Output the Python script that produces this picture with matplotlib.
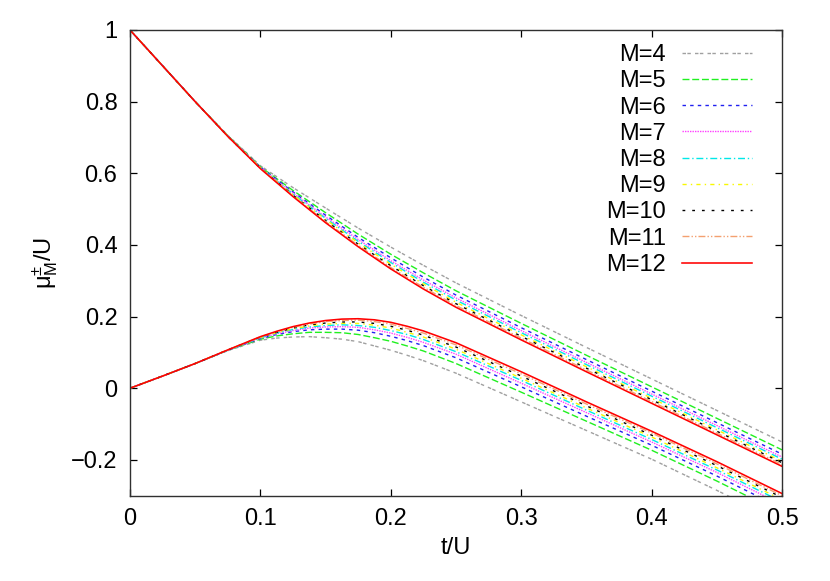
"""
Chemical potential branches mu^{+/-}_M / U versus t/U for truncation sizes M = 4..12.
Gnuplot-like look: thin coloured dash patterns, inward ticks on all sides.
"""

import matplotlib
matplotlib.use("Agg")
import matplotlib.pyplot as plt

plt.rcParams["font.family"] = ["Liberation Sans", "DejaVu Sans"]
plt.rcParams["mathtext.fontset"] = "custom"
plt.rcParams["mathtext.rm"] = "Liberation Sans"
plt.rcParams["mathtext.it"] = "Liberation Sans:italic"

# abscissa of the upper branch
t_upper = [0, 0.025, 0.05, 0.075, 0.1, 0.125, 0.15, 0.175, 0.2, 0.225, 0.25,
           0.3, 0.35, 0.4, 0.45, 0.5]

# upper branch mu^+ / U
upper_m4 = [1.0, 0.90, 0.80, 0.706, 0.621, 0.560, 0.503, 0.447, 0.394, 0.343, 0.294,
            0.203, 0.114, 0.026, -0.062, -0.150]
upper_m5 = [1.0, 0.90, 0.80, 0.705, 0.618, 0.552, 0.490, 0.430, 0.374, 0.322, 0.272,
            0.181, 0.092, 0.004, -0.084, -0.172]
upper_m6 = [1.0, 0.90, 0.80, 0.704, 0.617, 0.548, 0.483, 0.421, 0.364, 0.310, 0.260,
            0.169, 0.080, -0.008, -0.096, -0.184]
upper_m7 = [1.0, 0.90, 0.80, 0.704, 0.616, 0.545, 0.478, 0.415, 0.356, 0.302, 0.252,
            0.161, 0.072, -0.016, -0.104, -0.192]
upper_m8 = [1.0, 0.90, 0.80, 0.704, 0.615, 0.542, 0.474, 0.410, 0.351, 0.296, 0.246,
            0.155, 0.066, -0.022, -0.110, -0.198]
upper_m9 = [1.0, 0.90, 0.80, 0.704, 0.615, 0.540, 0.471, 0.406, 0.346, 0.291, 0.240,
            0.149, 0.060, -0.028, -0.116, -0.204]
upper_m10 = [1.0, 0.90, 0.80, 0.703, 0.614, 0.539, 0.468, 0.402, 0.342, 0.286, 0.236,
             0.145, 0.056, -0.032, -0.120, -0.208]
upper_m11 = [1.0, 0.90, 0.80, 0.703, 0.614, 0.537, 0.465, 0.399, 0.337, 0.282, 0.231,
             0.140, 0.051, -0.037, -0.125, -0.213]
upper_m12 = [1.0, 0.90, 0.80, 0.703, 0.613, 0.535, 0.462, 0.395, 0.333, 0.277, 0.226,
             0.135, 0.046, -0.042, -0.130, -0.218]

# abscissa of the lower branch (denser around the maximum)
t_lower = [0, 0.025, 0.05, 0.075, 0.1, 0.1125, 0.125, 0.1375, 0.15, 0.1625, 0.175,
           0.1875, 0.2, 0.2125, 0.225, 0.25, 0.3, 0.35, 0.4, 0.45, 0.5]

# lower branch mu^- / U
lower_m4 = [0, 0.034, 0.069, 0.105, 0.134, 0.140, 0.143, 0.144, 0.141, 0.137, 0.130,
            0.118, 0.106, 0.092, 0.077, 0.042, -0.038, -0.118, -0.198, -0.285, -0.375]
lower_m5 = [0, 0.034, 0.069, 0.106, 0.137, 0.146, 0.152, 0.156, 0.156, 0.155, 0.150,
            0.141, 0.131, 0.118, 0.104, 0.069, -0.011, -0.092, -0.173, -0.259, -0.349]
lower_m6 = [0, 0.034, 0.069, 0.106, 0.139, 0.150, 0.158, 0.163, 0.165, 0.165, 0.162,
            0.155, 0.145, 0.133, 0.119, 0.085, 0.004, -0.078, -0.159, -0.245, -0.335]
lower_m7 = [0, 0.034, 0.069, 0.106, 0.140, 0.152, 0.161, 0.168, 0.171, 0.172, 0.170,
            0.163, 0.154, 0.142, 0.128, 0.095, 0.014, -0.068, -0.150, -0.235, -0.325]
lower_m8 = [0, 0.034, 0.069, 0.106, 0.141, 0.154, 0.164, 0.171, 0.175, 0.177, 0.175,
            0.170, 0.161, 0.150, 0.136, 0.102, 0.022, -0.061, -0.143, -0.228, -0.317]
lower_m9 = [0, 0.034, 0.069, 0.107, 0.142, 0.155, 0.166, 0.174, 0.179, 0.181, 0.181,
            0.176, 0.168, 0.156, 0.143, 0.109, 0.028, -0.055, -0.136, -0.222, -0.311]
lower_m10 = [0, 0.034, 0.069, 0.107, 0.143, 0.156, 0.168, 0.177, 0.182, 0.185, 0.185,
             0.181, 0.173, 0.162, 0.148, 0.115, 0.034, -0.049, -0.131, -0.216, -0.305]
lower_m11 = [0, 0.034, 0.069, 0.107, 0.143, 0.158, 0.170, 0.179, 0.186, 0.189, 0.190,
             0.186, 0.179, 0.167, 0.154, 0.121, 0.040, -0.044, -0.125, -0.211, -0.300]
lower_m12 = [0, 0.034, 0.069, 0.107, 0.144, 0.159, 0.172, 0.182, 0.189, 0.193, 0.194,
             0.191, 0.184, 0.173, 0.160, 0.127, 0.046, -0.038, -0.120, -0.205, -0.294]

labels = ["M=4", "M=5", "M=6", "M=7", "M=8", "M=9", "M=10", "M=11", "M=12"]
uppers = [upper_m4, upper_m5, upper_m6, upper_m7, upper_m8, upper_m9,
          upper_m10, upper_m11, upper_m12]
lowers = [lower_m4, lower_m5, lower_m6, lower_m7, lower_m8, lower_m9,
          lower_m10, lower_m11, lower_m12]

# gnuplot-ish colours and dash patterns
couleurs = ["#a0a0a0", "#20f020", "#2020f0", "#ff40ff", "#00e8e8",
            "#f8f800", "#000000", "#f4a070", "#ff0000"]
tirets = [(0, (2.5, 1.0, 2.5, 3.0)), (0, (5, 2)), (0, (2.5, 3)), (0, (1, 0.8)),
          (0, (5, 2, 1, 2)), (0, (3, 3, 1, 3)), (0, (2, 5)),
          (0, (5, 1.5, 1, 1.5, 1, 1.5)), "-"]

fig = plt.figure(figsize=(8.3, 5.81), dpi=100)
ax = fig.add_axes([0.1566, 0.1468, 0.7856, 0.8016])

for lab, up, lo, c, ls in zip(labels, uppers, lowers, couleurs, tirets):
    lw = 1.15 if ls == "-" else 1.0
    ax.plot(t_upper, up, color=c, linestyle=ls, lw=lw, label=lab)
    ax.plot(t_lower, lo, color=c, linestyle=ls, lw=lw)

ax.set_xlim(0, 0.5)
ax.set_ylim(-0.3, 1.0)
ax.set_xticks([0, 0.1, 0.2, 0.3, 0.4, 0.5])
ax.set_xticklabels(["0", "0.1", "0.2", "0.3", "0.4", "0.5"])
ax.set_yticks([-0.2, 0, 0.2, 0.4, 0.6, 0.8, 1.0])
ax.set_yticklabels(["\u22120.2", "0", "0.2", "0.4", "0.6", "0.8", "1"])
ax.tick_params(direction="in", length=5, width=0.9, top=True, right=True,
               labelsize=17, pad=9)
for sp in ax.spines.values():
    sp.set_linewidth(1.0)
    sp.set_color("#303030")

ax.set_xlabel("t/U", fontsize=17, labelpad=5)
ax.set_ylabel("\u03bc$^{\\pm}_{\\mathrm{M}}$/U", fontsize=17, labelpad=8)

ax.legend(loc="upper right", bbox_to_anchor=(752 / 830, 1 - 44 / 581),
          bbox_transform=fig.transFigure, frameon=False, markerfirst=False,
          fontsize=17, handlelength=2.95, handletextpad=0.7, labelspacing=0.18,
          borderpad=0, borderaxespad=0)

fig.savefig("out.png", dpi=100)
